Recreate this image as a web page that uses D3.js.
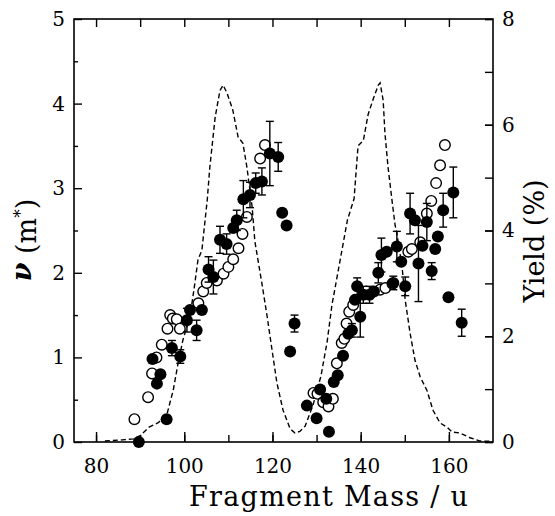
<!DOCTYPE html>
<html>
    <head>
        <title>Fragment mass distribution</title>
        <script src="https://d3js.org/d3.v7.min.js"></script>
        <style>
            body { margin: 0; background: #fff; }
            text { font-family: "DejaVu Serif", serif; fill: #000; }
        </style>
    </head>
    <body>
        <script>
            // dashed curve: fragment yield (%), right axis
            var yieldMass = [82, 86, 88.5, 90, 92, 94, 96, 97.5, 98.6, 99.7, 101.3, 102.4, 103.1, 104, 105.2, 105.8, 107, 108.1, 108.8, 109.7, 111, 112.2, 113.3, 114.2, 115.4, 116, 117.6, 118.8, 119.9, 121, 122.4, 124, 125.1, 126.2, 127.4, 129.2, 131, 132.4, 133.5, 134.6, 135.8, 137, 138.5, 139.4, 140.6, 141.7, 142.9, 144, 144.4, 145.1, 145.5, 146.2, 147.1, 147.8, 148.2, 149.4, 150.1, 151.2, 152.3, 153.5, 155, 156.4, 158, 159.6, 160.7, 162.5, 164.8, 167, 170];
            var yieldPct  = [0.02, 0.04, 0.06, 0.12, 0.28, 0.36, 0.5, 0.98, 1.49, 1.93, 2.37, 3.0, 3.44, 3.63, 4.57, 5.2, 6.14, 6.65, 6.75, 6.6, 6.28, 5.77, 5.65, 5.2, 4.44, 3.8, 3.0, 2.37, 1.74, 1.12, 0.6, 0.25, 0.17, 0.2, 0.3, 0.7, 1.25, 1.9, 2.6, 3.1, 3.65, 4.2, 4.6, 5.6, 5.7, 6.2, 6.5, 6.75, 6.79, 6.46, 5.84, 5.2, 4.57, 4.1, 3.95, 3.3, 2.68, 2.06, 1.55, 1.23, 0.98, 0.6, 0.36, 0.28, 0.19, 0.17, 0.08, 0.02, 0.01];

            // open circles
            var openMass = [88.7, 91.8, 92.7, 93.7, 94.9, 96.2, 96.8, 97.4, 98.3, 99.0, 103.2, 104.3, 105.1, 107.4, 108.9, 110.0, 111.1, 112.3, 113.2, 114.2, 117.2, 118.3,
                            129.3, 130.2, 131.5, 132.7, 133.7, 134.6, 135.7, 136.3, 136.8, 137.4, 138.3, 144.4, 145.6, 147.2, 150.8, 151.6, 153.5, 155.0, 156.0, 157.1, 158.0, 159.1];
            var openNu   = [0.27, 0.53, 0.81, 1.00, 1.15, 1.34, 1.50, 1.46, 1.45, 1.34, 1.64, 1.78, 1.88, 1.91, 1.99, 2.07, 2.16, 2.29, 2.46, 2.66, 3.35, 3.51,
                            0.58, 0.57, 0.47, 0.42, 0.51, 0.93, 1.17, 1.22, 1.40, 1.54, 1.62, 1.80, 1.82, 1.87, 2.25, 2.28, 2.36, 2.70, 2.85, 3.06, 3.27, 3.51];

            // filled circles with error bars
            var fullMass = [89.7, 96.0, 92.8, 94.6, 93.8, 97.2, 99.1, 100.6, 101.3, 102.8, 104.0, 105.5, 106.6, 108.1, 109.6, 111.1, 111.9, 113.4, 114.9, 116.2, 117.6, 119.4, 121.3, 122.2, 123.2, 125.0, 124.0,
                            127.8, 130.0, 132.8, 130.8, 132.2, 133.9, 134.8, 136.0, 137.2, 138.0, 139.9, 138.7, 139.2, 140.6, 142.0, 143.0, 144.0, 144.7, 145.9, 147.4, 148.2, 149.2, 150.1, 151.2, 152.3, 153.1, 154.0, 155.0, 156.1, 156.9, 157.5, 158.7, 159.9, 161.0, 162.9];
            var fullNu   = [0.00, 0.27, 0.98, 0.80, 0.69, 1.11, 1.01, 1.44, 1.56, 1.32, 1.56, 2.04, 1.95, 2.39, 2.34, 2.53, 2.62, 2.87, 2.92, 3.06, 3.08, 3.41, 3.37, 2.71, 2.56, 1.40, 1.07,
                            0.43, 0.28, 0.12, 0.62, 0.51, 0.71, 0.79, 1.02, 1.28, 1.32, 1.48, 1.68, 1.84, 1.74, 1.74, 1.78, 2.00, 2.21, 2.25, 1.88, 2.31, 2.13, 1.84, 2.70, 2.62, 2.11, 2.32, 2.60, 2.02, 2.28, 2.43, 2.74, 1.71, 2.95, 1.41];
            var fullErr  = [0, 0, 0, 0, 0, 0.09, 0.08, 0.14, 0, 0.12, 0, 0.15, 0.20, 0.16, 0.12, 0, 0.12, 0.22, 0.15, 0.12, 0.16, 0.38, 0.17, 0, 0, 0.10, 0,
                            0, 0, 0, 0, 0, 0, 0, 0, 0, 0.08, 0.24, 0, 0.10, 0.10, 0.10, 0, 0.12, 0.20, 0, 0.08, 0.18, 0, 0.11, 0.24, 0, 0.45, 0, 0.22, 0.10, 0, 0, 0.20, 0, 0.30, 0.16];

            var massTicks = [80, 90, 100, 110, 120, 130, 140, 150, 160];
            var massLabels = [80, 100, 120, 140, 160];
            var nuTicks = [0, 1, 2, 3, 4, 5];
            var nuMinor = [0.5, 1.5, 2.5, 3.5, 4.5];
            var yieldTicks = [0, 1, 2, 3, 4, 5, 6, 7, 8];
            var yieldLabels = [0, 2, 4, 6, 8];

            var width = 555, height = 516;
            var plotL = 74, plotR = 493, plotT = 19, plotB = 442;

            var x = d3.scaleLinear().domain([75, 170]).range([plotL, plotR]);
            var yNu = d3.scaleLinear().domain([0, 5]).range([plotB, plotT]);
            var yYield = d3.scaleLinear().domain([0, 8]).range([plotB, plotT]);

            var svg = d3.select("body")
                        .append("svg")
                        .attr("width", width)
                        .attr("height", height);

            // axes, ticks pointing inward
            function clean(g) {
                g.select(".domain").remove();
                g.selectAll(".tick line").attr("stroke", "#000").attr("stroke-width", 1.4);
                g.selectAll(".tick text").attr("font-family", "DejaVu Serif").attr("font-size", 20).attr("fill", "#000");
            }

            svg.append("g")
               .attr("transform", "translate(0," + plotB + ")")
               .call(d3.axisBottom(x).tickValues(massTicks).tickSizeInner(-7).tickSizeOuter(0).tickFormat(""))
               .call(clean);
            svg.append("g")
               .attr("transform", "translate(0," + plotB + ")")
               .call(d3.axisBottom(x).tickValues(massLabels).tickSizeInner(-10).tickSizeOuter(0).tickPadding(17).tickFormat(d3.format("d")))
               .call(clean);
            svg.append("g")
               .attr("transform", "translate(0," + plotT + ")")
               .call(d3.axisTop(x).tickValues(massTicks).tickSizeInner(-8).tickSizeOuter(0).tickFormat(""))
               .call(clean);

            svg.append("g")
               .attr("transform", "translate(" + plotL + ",0)")
               .call(d3.axisLeft(yNu).tickValues(nuMinor).tickSizeInner(-4).tickSizeOuter(0).tickFormat(""))
               .call(clean);
            svg.append("g")
               .attr("transform", "translate(" + plotL + ",0)")
               .call(d3.axisLeft(yNu).tickValues(nuTicks).tickSizeInner(-8).tickSizeOuter(0).tickPadding(9).tickFormat(d3.format("d")))
               .call(clean);

            svg.append("g")
               .attr("transform", "translate(" + plotR + ",0)")
               .call(d3.axisRight(yYield).tickValues(yieldTicks).tickSizeInner(-8).tickSizeOuter(0).tickFormat(""))
               .call(clean);
            svg.append("g")
               .attr("transform", "translate(" + plotR + ",0)")
               .call(d3.axisRight(yYield).tickValues(yieldLabels).tickSizeInner(-8).tickSizeOuter(0).tickPadding(9).tickFormat(d3.format("d")))
               .call(clean);

            // frame
            svg.append("rect")
               .attr("x", plotL).attr("y", plotT)
               .attr("width", plotR - plotL).attr("height", plotB - plotT)
               .attr("fill", "none").attr("stroke", "#000").attr("stroke-width", 1.6);

            // yield curve
            var line = d3.line()
                         .x(function(d, i){ return x(yieldMass[i]); })
                         .y(function(d){ return yYield(d); });
            svg.append("path")
               .datum(yieldPct)
               .attr("d", line)
               .attr("fill", "none")
               .attr("stroke", "#000")
               .attr("stroke-width", 1.4)
               .attr("stroke-dasharray", "5,3");

            // open circles
            svg.append("g").selectAll("circle")
               .data(openNu)
               .enter()
                  .append("circle")
                  .attr("cx", function(d, i){ return x(openMass[i]); })
                  .attr("cy", function(d){ return yNu(d); })
                  .attr("r", 5.3)
                  .attr("fill", "#fff")
                  .attr("stroke", "#000")
                  .attr("stroke-width", 1.4);

            // error bars
            var withErr = d3.range(fullNu.length).filter(function(i){ return fullErr[i] > 0; });
            var bars = svg.append("g")
                          .attr("stroke", "#000")
                          .attr("stroke-width", 1.4)
                          .selectAll("g")
                          .data(withErr)
                          .enter()
                             .append("g");
            bars.each(function(i) {
                var g = d3.select(this);
                var cx = x(fullMass[i]);
                var y1 = yNu(fullNu[i] + fullErr[i]), y2 = yNu(fullNu[i] - fullErr[i]);
                g.append("line").attr("x1", cx).attr("x2", cx).attr("y1", y1).attr("y2", y2);
                g.append("line").attr("x1", cx - 4).attr("x2", cx + 4).attr("y1", y1).attr("y2", y1);
                g.append("line").attr("x1", cx - 4).attr("x2", cx + 4).attr("y1", y2).attr("y2", y2);
            });

            // filled circles
            svg.append("g").selectAll("circle")
               .data(fullNu)
               .enter()
                  .append("circle")
                  .attr("cx", function(d, i){ return x(fullMass[i]); })
                  .attr("cy", function(d){ return yNu(d); })
                  .attr("r", 6)
                  .attr("fill", "#000");

            // axis titles
            svg.append("text")
               .attr("x", 189)
               .attr("y", 506)
               .attr("font-size", 27)
               .attr("textLength", 279)
               .text("Fragment Mass / u");

            var lt = svg.append("text")
               .attr("transform", "translate(36,240) rotate(-90)")
               .attr("text-anchor", "middle")
               .attr("font-size", 27);
            lt.append("tspan").attr("font-weight", "bold").attr("font-style", "italic").attr("baseline-shift", "5").text("ν");
            lt.append("tspan").text(" (m");
            lt.append("tspan").attr("baseline-shift", "super").attr("font-size", 17).text("*");
            lt.append("tspan").text(")");

            svg.append("text")
               .attr("transform", "translate(544,241) rotate(-90)")
               .attr("text-anchor", "middle")
               .attr("font-size", 27)
               .text("Yield (%)");
        </script>
    </body>
</html>
